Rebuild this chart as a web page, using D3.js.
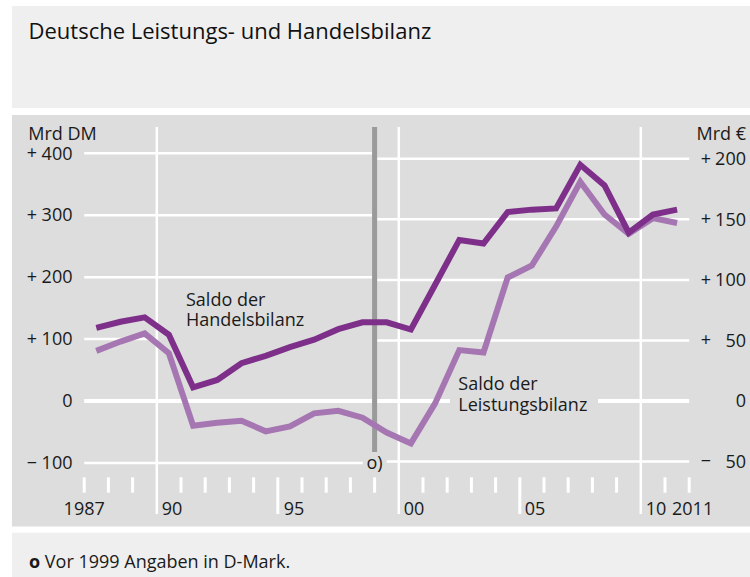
<!DOCTYPE html>
<html>
<head>
<meta charset="utf-8">
<script src="https://cdn.jsdelivr.net/npm/d3@7"></script>
<style>
  body { margin: 0; background: #fff; }
  svg { display: block; }
  text { font-family: "Open Sans", sans-serif; fill: #1a1a1a; }
</style>
</head>
<body>
<svg id="chart" width="750" height="577"></svg>
<script>
// Annual balances; until 1998 in Mrd DM, from 1999 in Mrd €
const yearsDM = [1987, 1988, 1989, 1990, 1991, 1992, 1993, 1994, 1995, 1996, 1997, 1998];
const tradeDM = [118, 128, 135, 107, 22, 34, 61, 73, 87, 99, 116, 127];
const currentDM = [81, 96, 109, 77, -40, -35, -32, -49, -41, -20, -16, -27];

const yearsEUR = [1999, 2000, 2001, 2002, 2003, 2004, 2005, 2006, 2007, 2008, 2009, 2010, 2011];
const tradeEUR = [65, 59, 96, 133, 130, 156, 158, 159, 195, 178, 139, 154, 158];
const currentEUR = [-26, -35, -2, 42, 40, 102, 112, 144, 181, 154, 138, 151, 147];

const leftTicks = [-100, 0, 100, 200, 300, 400];
const rightTicks = [-50, 0, 50, 100, 150, 200];
const decadeYears = [1990, 2000, 2010];
const halfDecadeYears = [1995, 2005];
const yearTicks = d3.range(1987, 2013);
const xLabels = [
  { year: 1987, text: "1987", anchor: "middle", dx: 0 },
  { year: 1990, text: "90", anchor: "start", dx: 5 },
  { year: 1995, text: "95", anchor: "start", dx: 6 },
  { year: 2000, text: "00", anchor: "start", dx: 5 },
  { year: 2005, text: "05", anchor: "start", dx: 5 },
  { year: 2010, text: "10", anchor: "start", dx: 5 },
  { year: 2011, text: "2011", anchor: "start", dx: 7 }
];
const euroSwitchYear = 1999;
const DM_PER_EUR = 1.95583;

const svg = d3.select("#chart");
const panelColor = "#dcdddc";
const boxColor = "#efefef";
const darkPurple = "#7d2f8a";
const lightPurple = "#a676b3";

// Boxes
svg.append("rect").attr("x", 12).attr("y", 6).attr("width", 738).attr("height", 102).attr("fill", boxColor);
svg.append("rect").attr("x", 12).attr("y", 115).attr("width", 738).attr("height", 411.5).attr("fill", panelColor);
svg.append("rect").attr("x", 12).attr("y", 532.7).attr("width", 738).attr("height", 44.3).attr("fill", boxColor);

svg.append("text").attr("x", 28.5).attr("y", 38.5).attr("font-size", 22).style("fill", "#111")
  .text("Deutsche Leistungs- und Handelsbilanz");

// Scales
const x = d3.scaleLinear().domain([1987, 2012]).range([84.2, 689.2]);
const yDM = d3.scaleLinear().domain([-100, 400]).range([462.9, 153.3]);
const yEUR = d3.scaleLinear().domain([-50, 200])
  .range([yDM(-50 * DM_PER_EUR), yDM(200 * DM_PER_EUR)]);

const xSwitch = x(euroSwitchYear);

// Horizontal gridlines: DM grid before the switch, € grid after it
const grid = svg.append("g").attr("stroke", "#fff").attr("fill", "none");
grid.selectAll("line.dm").data(leftTicks).join("line").attr("class", "dm")
  .attr("x1", x(1987)).attr("x2", xSwitch - 2.5)
  .attr("y1", d => yDM(d)).attr("y2", d => yDM(d))
  .attr("stroke-width", d => d === 0 ? 4 : 2.5);
grid.selectAll("line.eur").data(rightTicks).join("line").attr("class", "eur")
  .attr("x1", xSwitch + 2.5).attr("x2", x(2012))
  .attr("y1", d => yEUR(d)).attr("y2", d => yEUR(d))
  .attr("stroke-width", d => d === 0 ? 4 : 2.5);

// Label backgrounds interrupting gridlines
svg.append("rect").attr("x", x(1990) + 1.3).attr("y", 284).attr("width", xSwitch - 2.5 - x(1990) - 1.3).attr("height", 60).attr("fill", panelColor);
svg.append("rect").attr("x", 362.7).attr("y", 452).attr("width", 24).attr("height", 20).attr("fill", panelColor);
svg.append("rect").attr("x", 450).attr("y", 376).attr("width", 148).attr("height", 42).attr("fill", panelColor);

// Vertical decade lines
grid.selectAll("line.dec").data(decadeYears).join("line").attr("class", "dec")
  .attr("x1", d => x(d)).attr("x2", d => x(d))
  .attr("y1", 127).attr("y2", 514).attr("stroke-width", 2.5);

// Year ticks
grid.selectAll("line.yr").data(yearTicks.filter(d => !decadeYears.includes(d))).join("line").attr("class", "yr")
  .attr("x1", d => x(d)).attr("x2", d => x(d))
  .attr("y1", 477.3).attr("y2", d => halfDecadeYears.includes(d) ? 514 : 492.7)
  .attr("stroke-width", 3);

// Switch marker bar
svg.append("line").attr("x1", xSwitch).attr("x2", xSwitch).attr("y1", 127).attr("y2", 452)
  .attr("stroke", "#9a9a9a").attr("stroke-width", 5);

// Series lines
const toPoints = (dm, eur) =>
  yearsDM.map((yr, i) => [x(yr + 0.5), yDM(dm[i])])
    .concat(yearsEUR.map((yr, i) => [x(yr + 0.5), yEUR(eur[i])]));
const line = d3.line();
svg.append("path").attr("d", line(toPoints(currentDM, currentEUR)))
  .attr("fill", "none").attr("stroke", lightPurple).attr("stroke-width", 6)
  .attr("stroke-linejoin", "miter");
svg.append("path").attr("d", line(toPoints(tradeDM, tradeEUR)))
  .attr("fill", "none").attr("stroke", darkPurple).attr("stroke-width", 6)
  .attr("stroke-linejoin", "miter");

// Left axis (Mrd DM)
const leftAxis = svg.append("g").attr("transform", "translate(72.5,0)")
  .call(d3.axisLeft(yDM).tickValues(leftTicks).tickSize(0).tickPadding(0).tickFormat(d => Math.abs(d)));
leftAxis.select(".domain").remove();
leftAxis.attr("font-family", null).attr("font-size", null);
leftAxis.selectAll("text").attr("font-size", 18).attr("fill", "#1a1a1a");
svg.append("g").selectAll("text").data(leftTicks.filter(d => d !== 0)).join("text")
  .attr("x", 32).attr("y", d => yDM(d)).attr("dy", "0.32em").attr("text-anchor", "middle")
  .attr("font-size", 18).text(d => d > 0 ? "+" : "\u2212");
svg.append("text").attr("x", 28.3).attr("y", 140.3).attr("font-size", 18).text("Mrd DM");

// Right axis (Mrd €)
const rightAxis = svg.append("g").attr("transform", "translate(746,0)")
  .call(d3.axisRight(yEUR).tickValues(rightTicks).tickSize(0).tickPadding(0).tickFormat(d => Math.abs(d)));
rightAxis.select(".domain").remove();
rightAxis.attr("font-family", null).attr("font-size", null);
rightAxis.selectAll("text").attr("font-size", 18).attr("fill", "#1a1a1a").attr("text-anchor", "end");
svg.append("g").selectAll("text").data(rightTicks.filter(d => d !== 0)).join("text")
  .attr("x", 706).attr("y", d => yEUR(d)).attr("dy", "0.32em").attr("text-anchor", "middle")
  .attr("font-size", 18).text(d => d > 0 ? "+" : "\u2212");
svg.append("text").attr("x", 746).attr("y", 140).attr("text-anchor", "end").attr("font-size", 18).text("Mrd €");

// Year labels
svg.append("g").selectAll("text").data(xLabels).join("text")
  .attr("x", d => x(d.year) + d.dx).attr("y", 515.3)
  .attr("text-anchor", d => d.anchor).attr("font-size", 18).text(d => d.text);

// Marker note and series labels
svg.append("text").attr("x", xSwitch).attr("y", 469).attr("text-anchor", "middle").attr("font-size", 18).text("o)");

const tradeLabel = svg.append("text").attr("font-size", 18);
tradeLabel.append("tspan").attr("x", 186).attr("y", 306).text("Saldo der");
tradeLabel.append("tspan").attr("x", 186).attr("y", 326.3).text("Handelsbilanz");

const currentLabel = svg.append("text").attr("font-size", 18);
currentLabel.append("tspan").attr("x", 458.3).attr("y", 390).text("Saldo der");
currentLabel.append("tspan").attr("x", 458.3).attr("y", 410.7).text("Leistungsbilanz");

// Footnote
const note = svg.append("text").attr("x", 29).attr("y", 568.3).attr("font-size", 18);
note.append("tspan").attr("font-weight", "bold").text("o");
note.append("tspan").text(" Vor 1999 Angaben in D-Mark.");
</script>
</body>
</html>
